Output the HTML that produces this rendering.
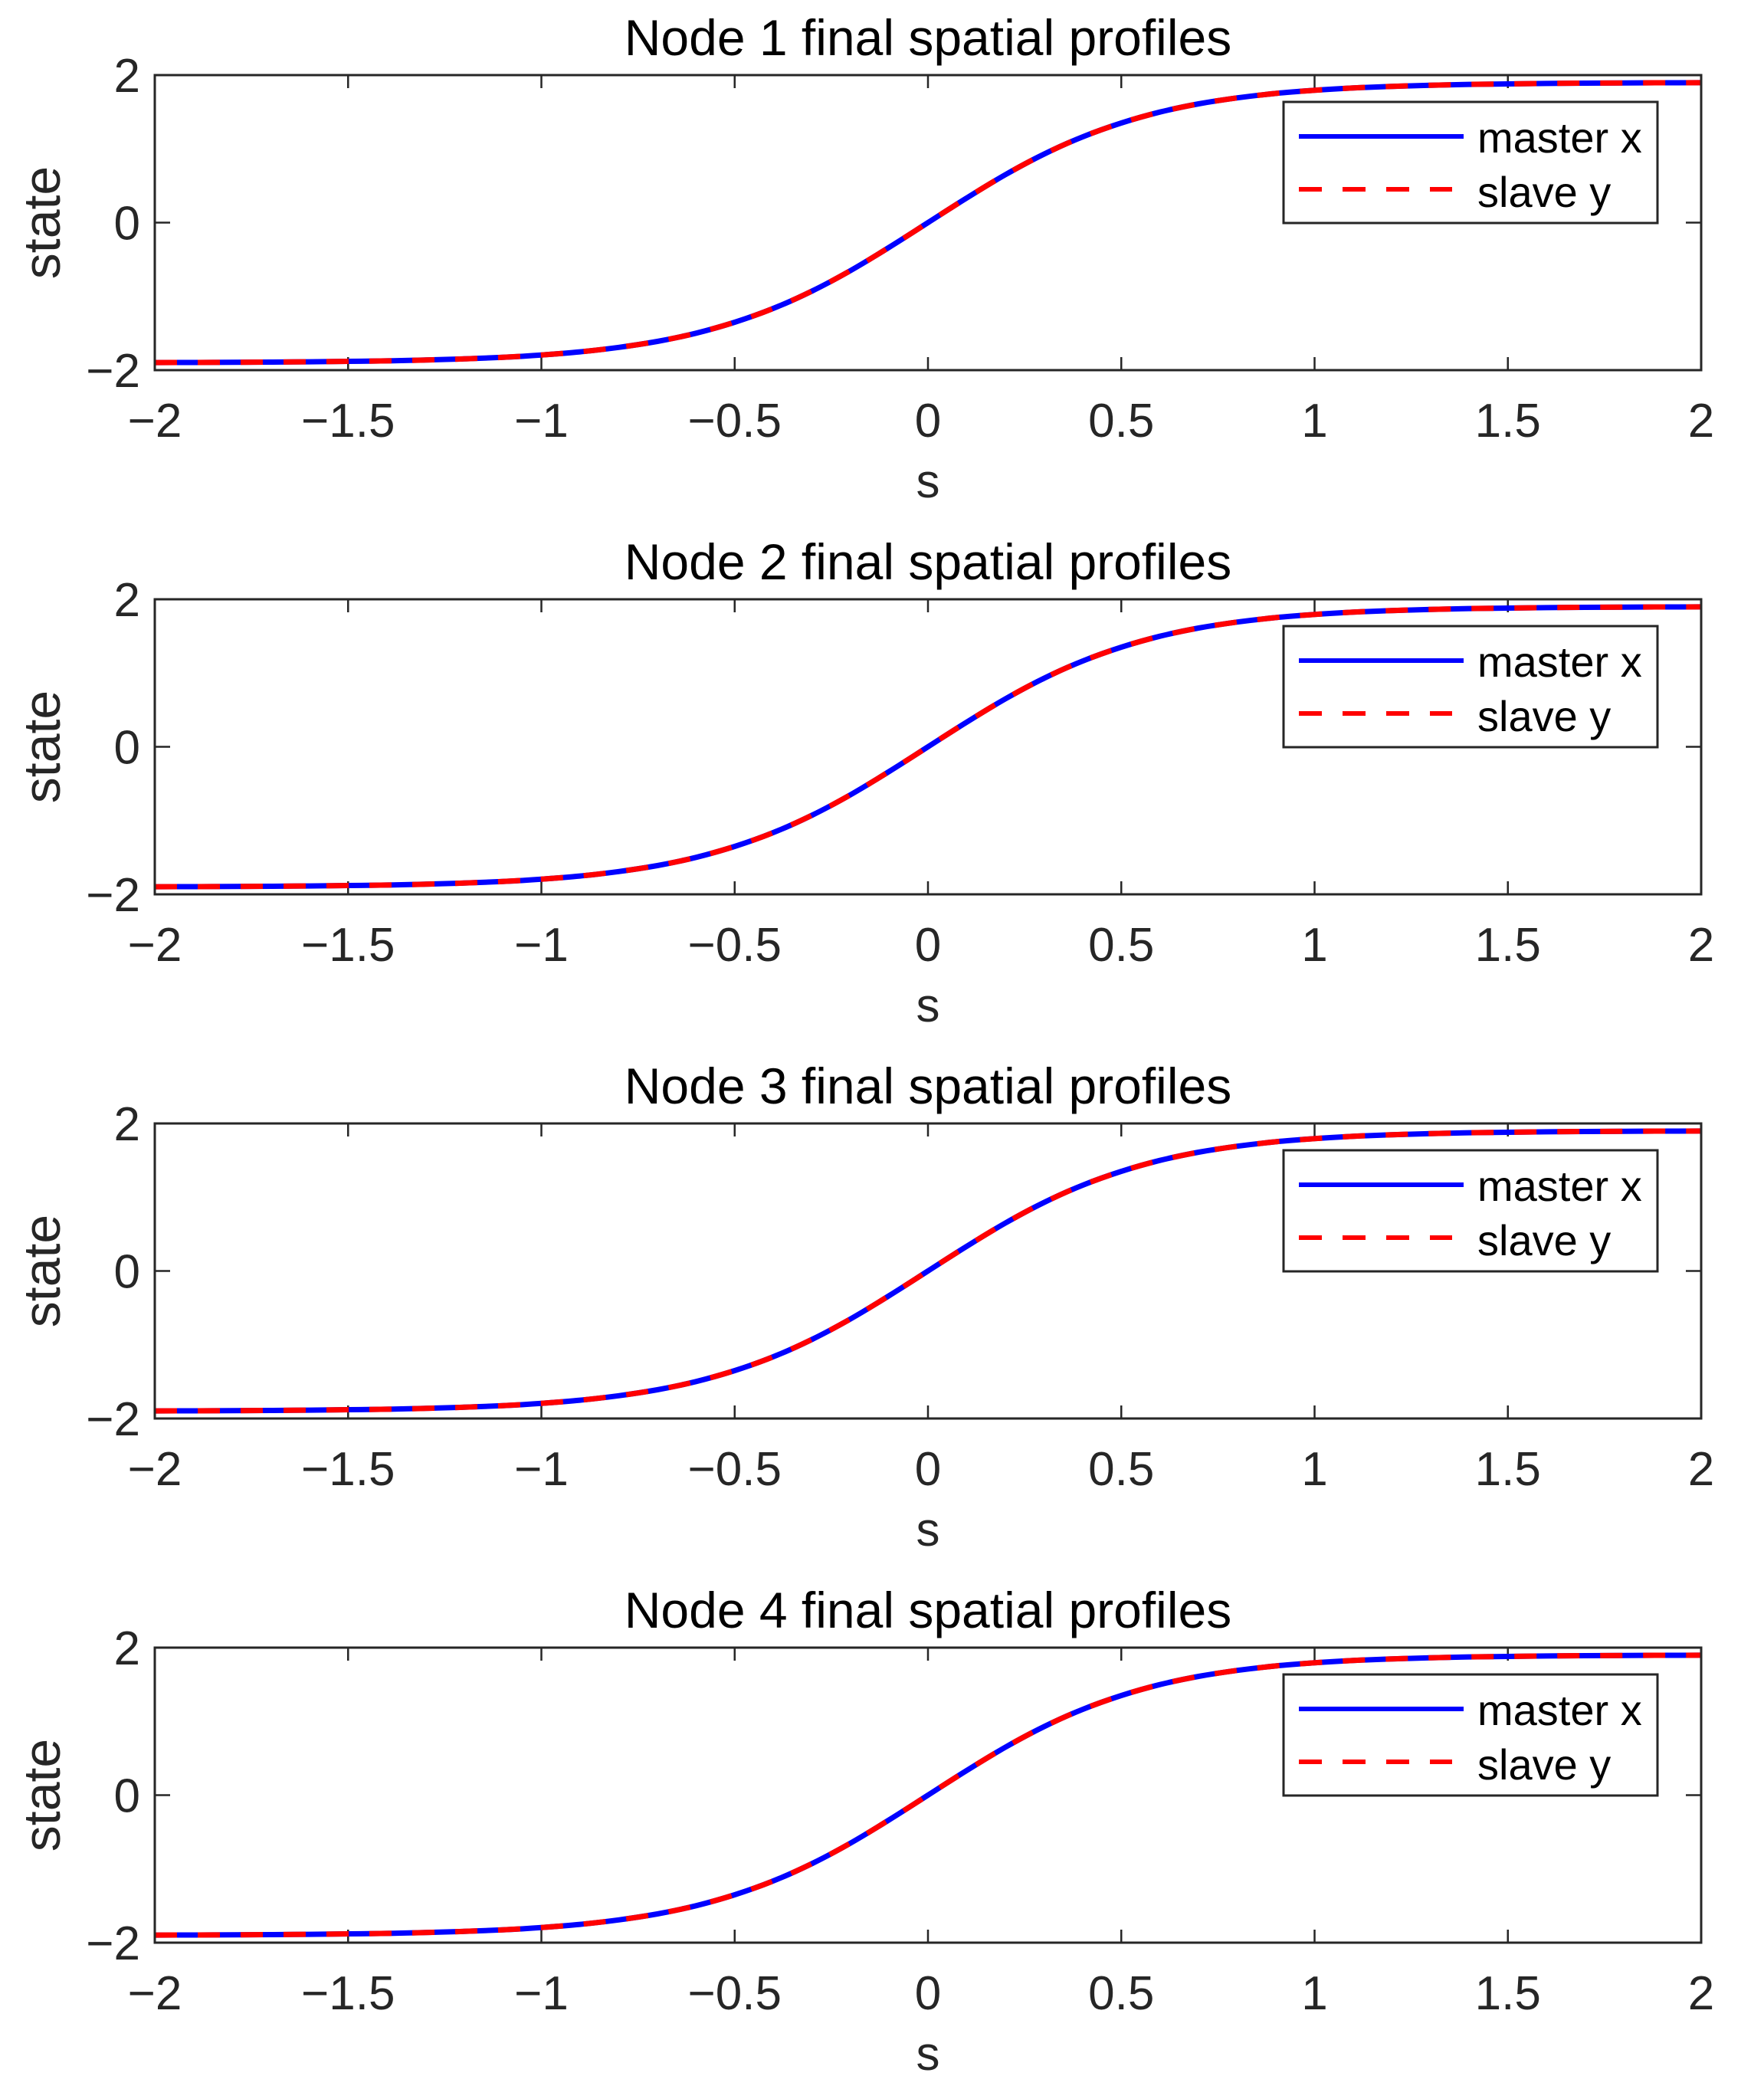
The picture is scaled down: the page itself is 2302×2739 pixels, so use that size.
<!DOCTYPE html>
<html><head><meta charset="utf-8">
<style>
html,body{margin:0;padding:0;background:#fff;}
svg{display:block;font-family:"Liberation Sans",Arial,sans-serif;}
</style></head>
<body>
<svg id="fig" width="2302" height="2739" viewBox="0 0 2302 2739" xmlns="http://www.w3.org/2000/svg"></svg>
<script>
const sValues = [-2,-1.9,-1.8,-1.7,-1.6,-1.5,-1.4,-1.3,-1.2,-1.1,-1,-0.9,-0.8,-0.7,-0.6,-0.5,-0.4,-0.3,-0.2,-0.1,0,0.1,0.2,0.3,0.4,0.5,0.6,0.7,0.8,0.9,1,1.1,1.2,1.3,1.4,1.5,1.6,1.7,1.8,1.9,2];
const masterX = [-1.897,-1.896,-1.894,-1.891,-1.887,-1.881,-1.874,-1.863,-1.847,-1.826,-1.794,-1.752,-1.691,-1.610,-1.499,-1.351,-1.163,-0.928,-0.649,-0.334,0,0.334,0.649,0.928,1.163,1.351,1.499,1.610,1.691,1.752,1.794,1.826,1.847,1.863,1.874,1.881,1.887,1.891,1.894,1.896,1.897];
const slaveY = [-1.897,-1.896,-1.894,-1.891,-1.887,-1.881,-1.874,-1.863,-1.847,-1.826,-1.794,-1.752,-1.691,-1.610,-1.499,-1.351,-1.163,-0.928,-0.649,-0.334,0,0.334,0.649,0.928,1.163,1.351,1.499,1.610,1.691,1.752,1.794,1.826,1.847,1.863,1.874,1.881,1.887,1.891,1.894,1.896,1.897];
const xTicks = [-2,-1.5,-1,-0.5,0,0.5,1,1.5,2];
const xTickLabels = ["\u22122","\u22121.5","\u22121","\u22120.5","0","0.5","1","1.5","2"];
const yTicks = [-2,0,2];
const yTickLabels = ["\u22122","0","2"];
const nodes = [1,2,3,4];

const NS="http://www.w3.org/2000/svg";
const svg=document.getElementById('fig');
function mk(tag,attrs,parent){const e=document.createElementNS(NS,tag);for(const k in attrs)e.setAttribute(k,attrs[k]);(parent||svg).appendChild(e);return e;}
function smoothPath(P){
  let d='M'+P[0][0].toFixed(1)+','+P[0][1].toFixed(1);
  for(let i=0;i<P.length-1;i++){
    const p0=P[Math.max(0,i-1)],p1=P[i],p2=P[i+1],p3=P[Math.min(P.length-1,i+2)];
    const c1=[p1[0]+(p2[0]-p0[0])/6,p1[1]+(p2[1]-p0[1])/6];
    const c2=[p2[0]-(p3[0]-p1[0])/6,p2[1]-(p3[1]-p1[1])/6];
    d+=`C${c1[0].toFixed(1)},${c1[1].toFixed(1)} ${c2[0].toFixed(1)},${c2[1].toFixed(1)} ${p2[0].toFixed(1)},${p2[1].toFixed(1)}`;
  }
  return d;
}
const L=202,R=2220,H=385,tops=[98,782,1466,2150];
const AX="#262626";
nodes.forEach((n,i)=>{
  const T=tops[i],B=T+H;
  const g=mk('g',{});
  
  
  const xs=v=>L+(v+2)/4*(R-L);
  const ys=v=>B-(v+2)/4*H;
  const clipId='clip'+n;
  const cp=mk('clipPath',{id:clipId},g);mk('rect',{x:L,y:T,width:R-L,height:H},cp);
  xTicks.forEach((t,k)=>{
    const x=xs(t);
    const tk=mk('path',{d:`M${x},${B}v-17M${x},${T}v17`,stroke:AX,'stroke-width':2.5},g);
    
    
    const lb=mk('text',{x:x,y:B+87,'font-size':62,'text-anchor':'middle',fill:AX},g);
    
    
    lb.textContent=xTickLabels[k];
  });
  yTicks.forEach((t,k)=>{
    const y=ys(t);
    const tk=mk('path',{d:`M${L},${y}h20M${R},${y}h-20`,stroke:AX,'stroke-width':2.5},g);
    
    
    const lb=mk('text',{x:L-19,y:y+22,'font-size':62,'text-anchor':'end',fill:AX},g);
    
    
    lb.textContent=yTickLabels[k];
  });
  const pts=(arr)=>sValues.map((s,k)=>[xs(s),ys(arr[k])]);
  const lx=mk('path',{d:smoothPath(pts(masterX)),fill:'none',stroke:'#0000ff','stroke-width':7,'clip-path':`url(#${clipId})`},g);
  
  
  const ly=mk('path',{d:smoothPath(pts(slaveY)),fill:'none',stroke:'#ff0000','stroke-width':7,'stroke-dasharray':'29 27','clip-path':`url(#${clipId})`},g);
  
  
  const box=mk('rect',{x:L,y:T,width:R-L,height:H,fill:'none',stroke:AX,'stroke-width':3},g);
  
  
  const ti=mk('text',{x:(L+R)/2,y:T-26,'font-size':66,'text-anchor':'middle',fill:'#000'},g);
  
  
  ti.textContent='Node '+n+' final spatial profiles';
  const xl=mk('text',{x:(L+R)/2,y:B+166,'font-size':62,'text-anchor':'middle',fill:AX},g);
  
  
  xl.textContent='s';
  const yl=mk('text',{x:0,y:0,'font-size':68,'text-anchor':'middle',fill:AX,transform:`translate(78,${(T+B)/2}) rotate(-90)`},g);
  
  
  yl.textContent='state';
  const lg=mk('g',{},g);
  
  
  mk('rect',{x:1675,y:T+35,width:488,height:158,fill:'#fff',stroke:AX,'stroke-width':3},lg);
  const e1=mk('line',{x1:1695,x2:1910,y1:T+80,y2:T+80,stroke:'#0000ff','stroke-width':6},lg);
  
  
  const t1=mk('text',{x:1928,y:T+101,'font-size':56,fill:'#000'},lg);
  
  
  t1.textContent='master x';
  const e2=mk('line',{x1:1695,x2:1895,y1:T+149,y2:T+149,stroke:'#ff0000','stroke-width':6,'stroke-dasharray':'30 27'},lg);
  
  
  const t2=mk('text',{x:1928,y:T+172,'font-size':56,fill:'#000'},lg);
  
  
  t2.textContent='slave y';
});
</script>
</body></html>
